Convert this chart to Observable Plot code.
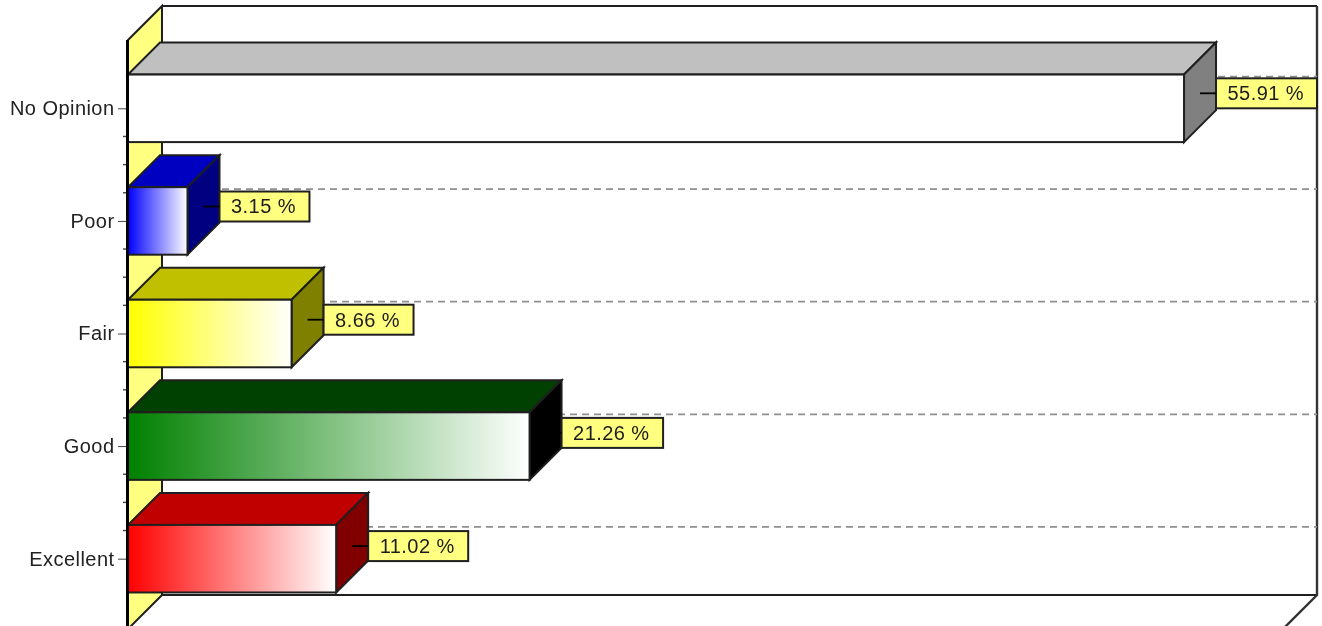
<!DOCTYPE html>
<html>
<head>
<meta charset="utf-8">
<script src="https://cdn.jsdelivr.net/npm/d3@7"></script>
<script src="https://cdn.jsdelivr.net/npm/@observablehq/plot@0.6"></script>
<style>
  html, body { margin: 0; padding: 0; background: #fff; }
  svg { display: block; }
</style>
</head>
<body>
<div id="chart"></div>
<script>
const categories = ["No Opinion", "Poor", "Fair", "Good", "Excellent"];
const percentages = [55.91, 3.15, 8.66, 21.26, 11.02];
const xMaximum = 61.15;

const palette = {
  "No Opinion": {from: "#ffffff", top: "#c0c0c0", side: "#808080"},
  "Poor": {from: "#0000ff", top: "#0000c0", side: "#000080"},
  "Fair": {from: "#ffff00", top: "#c0c000", side: "#808000"},
  "Good": {from: "#008000", top: "#004000", side: "#000000"},
  "Excellent": {from: "#ff0000", top: "#c00000", side: "#800000"}
};
const FONT = "'Liberation Sans', Arial, sans-serif";
const FONT_SIZE = 20;
const LETTER_SPACING = 0.45;
const WIDTH = 1322, HEIGHT = 626;
const WALL_DEPTH = 34, BAR_DEPTH = 32;
const LINE = "#1f1f1f";

const rows = categories.map((category, i) => ({
  category,
  value: percentages[i],
  gradient: `url(#grad${i})`,
  label: `${percentages[i].toFixed(2)} %`,
  lift: -15 + 0.6 * i
}));

function poly(g, pts, fill, stroke = LINE, sw = 2) {
  g.append("polygon")
    .attr("points", pts.map(p => p.join(",")).join(" "))
    .attr("fill", fill).attr("stroke", stroke)
    .attr("stroke-width", sw).attr("stroke-linejoin", "miter");
}

const gradients = () => {
  const defs = d3.create("svg:defs");
  categories.forEach((c, i) => {
    const g = defs.append("linearGradient").attr("id", `grad${i}`)
      .attr("x1", 0).attr("x2", 1).attr("y1", 0).attr("y2", 0);
    g.append("stop").attr("offset", 0).attr("stop-color", palette[c].from);
    g.append("stop").attr("offset", 1).attr("stop-color", "#ffffff");
  });
  return defs.node();
};

// Chart box: back wall, side wall and dashed guide lines
const frame = (index, {y}, values, dims) => {
  const g = d3.create("svg:g");
  const L = dims.marginLeft, R = dims.width - dims.marginRight;
  const T = dims.marginTop, B = dims.height + 3;
  const d = WALL_DEPTH;
  g.append("rect").attr("x", L + d).attr("y", T - d)
    .attr("width", R - L).attr("height", B - T)
    .attr("fill", "#fff").attr("stroke", "none");
  g.append("path").attr("d", `M${L + d},${T - d}H${R + d}`).attr("stroke", LINE).attr("stroke-width", 2);
  g.append("path").attr("d", `M${L + d},${B - d}H${R + d}`).attr("stroke", LINE).attr("stroke-width", 2);
  g.append("path").attr("d", `M${R + d},${T - d}V${B - d}L${R},${B}`).attr("fill", "none").attr("stroke", "#333").attr("stroke-width", 2.4);
  poly(g, [[L, T], [L + d, T - d], [L + d, B - d], [L, B]], "#ffff80");
  for (const c of categories) {
    g.append("line").attr("x1", L + d).attr("x2", R + d)
      .attr("y1", y(c) + 2).attr("y2", y(c) + 2)
      .attr("stroke", "#8f8f8f").attr("stroke-width", 1.8)
      .attr("stroke-dasharray", "7 5");
  }
  return g.node();
};

// Top and side faces of every bar
const faces = (index, {x, y}) => {
  const g = d3.create("svg:g");
  const h = y.bandwidth(), d = BAR_DEPTH;
  for (const r of rows) {
    const x0 = x(0), x1 = x(r.value), t = y(r.category), b = t + h;
    poly(g, [[x0, t], [x0 + d, t - d], [x1 + d, t - d], [x1, t]], palette[r.category].top);
    poly(g, [[x1, t], [x1 + d, t - d], [x1 + d, b - d], [x1, b]], palette[r.category].side);
  }
  return g.node();
};

const measure = document.createElement("canvas").getContext("2d");
measure.font = `${FONT_SIZE}px ${FONT}`;

// Value boxes with their leader lines
const callouts = (index, {x, y}, values, dims) => {
  const g = d3.create("svg:g");
  const h = y.bandwidth(), d = BAR_DEPTH;
  const limit = dims.width - dims.marginRight + WALL_DEPTH;
  for (const r of rows) {
    const cx = x(r.value), cy = y(r.category) + h / 2 + r.lift;
    const left = cx + d;
    const tw = measure.measureText(r.label).width + r.label.length * LETTER_SPACING;
    const right = Math.min(left + tw + 25, limit);
    g.append("rect").attr("x", left).attr("y", cy - 15)
      .attr("width", right - left).attr("height", 30)
      .attr("fill", "#ffff80").attr("stroke", LINE).attr("stroke-width", 2);
    g.append("line").attr("x1", cx + 16).attr("x2", left)
      .attr("y1", cy).attr("y2", cy)
      .attr("stroke", "#000").attr("stroke-width", 1.8);
  }
  return g.node();
};

// Short minor ticks between the categories
const minorTicks = (index, {y}, values, dims) => {
  const g = d3.create("svg:g");
  const L = dims.marginLeft, step = y.step();
  categories.slice(1).forEach(c => {
    const mid = y(c) + y.bandwidth() / 2 - step / 2;
    for (const k of [-1, 0, 1]) {
      g.append("line").attr("x1", L - 5).attr("x2", L)
        .attr("y1", mid + k * step / 4).attr("y2", mid + k * step / 4)
        .attr("stroke", "#444").attr("stroke-width", 1.4);
    }
  });
  return g.node();
};

const frontAxis = (index, scales, values, dims) => {
  const g = d3.create("svg:g");
  g.append("line")
    .attr("x1", dims.marginLeft - 0.5).attr("x2", dims.marginLeft - 0.5)
    .attr("y1", dims.marginTop).attr("y2", dims.height)
    .attr("stroke", "#000").attr("stroke-width", 3);
  return g.node();
};

const chart = Plot.plot({
  width: WIDTH,
  height: HEIGHT,
  marginLeft: 128,
  marginRight: 39,
  marginTop: 40,
  marginBottom: 0,
  style: {fontFamily: FONT, background: "#fff", filter: "blur(0.45px)", letterSpacing: `${LETTER_SPACING}px`},
  x: {domain: [0, xMaximum], axis: null},
  y: {domain: categories, range: [29.5, 637.5], padding: 0.4, round: false, label: null, axis: null},
  color: {type: "identity"},
  marks: [
    gradients,
    frame,
    faces,
    Plot.barX(rows, {x1: () => 0, x2: "value", y: "category", fill: "gradient", stroke: LINE, strokeWidth: 2}),
    callouts,
    ...rows.map(r => Plot.text([r], {
      x: "value", y: "category", text: "label",
      dx: BAR_DEPTH + 11, dy: r.lift,
      textAnchor: "start",
      fontSize: FONT_SIZE, fill: "#1c1c1c"
    })),
    Plot.axisY({anchor: "left", tickSize: 10, tickPadding: 4, fontSize: FONT_SIZE, stroke: "#444", fill: "#222", label: null}),
    minorTicks,
    frontAxis
  ]
});
document.getElementById("chart").append(chart);
</script>
</body>
</html>
